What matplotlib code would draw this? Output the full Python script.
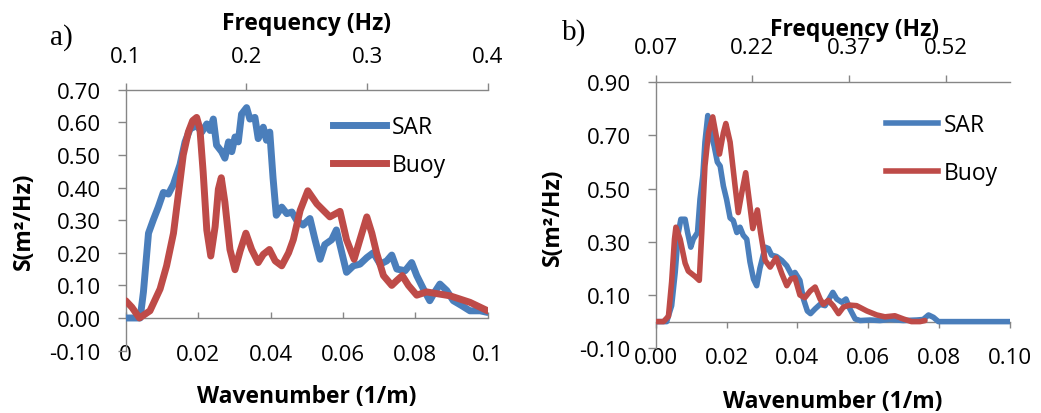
import matplotlib
matplotlib.use("Agg")
import matplotlib.pyplot as plt
from matplotlib.lines import Line2D

# ---------------- data ----------------
# Panel a
a_sar_k = [0.0, 0.0040, 0.0049, 0.0063, 0.0076, 0.0090, 0.0104, 0.0118, 0.0132, 0.0150,
           0.0164, 0.0178, 0.0196, 0.0210, 0.0224, 0.0233, 0.0242, 0.0251, 0.0265, 0.0274,
           0.0284, 0.0293, 0.0302, 0.0311, 0.0320, 0.0334, 0.0343, 0.0357, 0.0366, 0.0380,
           0.0389, 0.0398, 0.0407, 0.0416, 0.0431, 0.0445, 0.0459, 0.0472, 0.0490, 0.0509,
           0.0523, 0.0537, 0.0550, 0.0569, 0.0582, 0.0596, 0.0610, 0.0629, 0.0647, 0.0666,
           0.0684, 0.0703, 0.0721, 0.0735, 0.0749, 0.0772, 0.0790, 0.0804, 0.0822, 0.0840,
           0.0854, 0.0868, 0.0887, 0.0905, 0.0928, 0.0951, 0.0979, 0.1000]
a_sar_s = [0.000, 0.000, 0.080, 0.260, 0.300, 0.340, 0.385, 0.380, 0.410, 0.470,
           0.540, 0.580, 0.590, 0.570, 0.595, 0.575, 0.610, 0.530, 0.510, 0.490,
           0.540, 0.510, 0.555, 0.540, 0.625, 0.645, 0.610, 0.615, 0.550, 0.585,
           0.545, 0.570, 0.430, 0.315, 0.340, 0.320, 0.325, 0.300, 0.285, 0.305,
           0.240, 0.180, 0.225, 0.240, 0.270, 0.205, 0.140, 0.160, 0.165, 0.185,
           0.200, 0.165, 0.175, 0.193, 0.150, 0.145, 0.170, 0.130, 0.090, 0.053,
           0.080, 0.104, 0.084, 0.053, 0.038, 0.022, 0.022, 0.017]
a_buoy_k = [0.0, 0.0017, 0.0038, 0.0067, 0.0095, 0.0113, 0.0132, 0.0145, 0.0159, 0.0173,
            0.0185, 0.0196, 0.0205, 0.0214, 0.0224, 0.0235, 0.0247, 0.0256, 0.0264, 0.0274,
            0.0288, 0.0302, 0.0316, 0.0332, 0.0348, 0.0366, 0.0380, 0.0397, 0.0413, 0.0431,
            0.0450, 0.0463, 0.0482, 0.0503, 0.0528, 0.0564, 0.0592, 0.0610, 0.0631, 0.0647,
            0.0666, 0.0680, 0.0693, 0.0712, 0.0735, 0.0749, 0.0764, 0.0781, 0.0804, 0.0831,
            0.0896, 0.0951, 0.1000]
a_buoy_s = [0.053, 0.033, 0.000, 0.022, 0.089, 0.160, 0.260, 0.375, 0.500, 0.570,
            0.605, 0.615, 0.580, 0.447, 0.270, 0.190, 0.280, 0.395, 0.430, 0.355,
            0.210, 0.148, 0.205, 0.260, 0.210, 0.170, 0.195, 0.210, 0.175, 0.160,
            0.200, 0.240, 0.330, 0.390, 0.350, 0.310, 0.327, 0.240, 0.180, 0.240,
            0.310, 0.260, 0.200, 0.130, 0.100, 0.115, 0.130, 0.100, 0.070, 0.080,
            0.068, 0.048, 0.022]

# Panel b
b_sar_k = [0.0, 0.0031, 0.0045, 0.0055, 0.0064, 0.0071, 0.0083, 0.0090, 0.0099, 0.0106,
           0.0118, 0.0125, 0.0133, 0.0139, 0.0147, 0.0155, 0.0165, 0.0174, 0.0182, 0.0191,
           0.0200, 0.0210, 0.0219, 0.0229, 0.0238, 0.0247, 0.0257, 0.0266, 0.0276, 0.0285,
           0.0294, 0.0309, 0.0318, 0.0327, 0.0341, 0.0356, 0.0370, 0.0384, 0.0393, 0.0407,
           0.0417, 0.0428, 0.0437, 0.0450, 0.0464, 0.0478, 0.0487, 0.0500, 0.0511, 0.0525,
           0.0537, 0.0548, 0.0563, 0.0577, 0.0605, 0.0633, 0.0661, 0.0699, 0.0737, 0.0755,
           0.0770, 0.0784, 0.0798, 0.1000]
b_sar_s = [0.000, 0.000, 0.060, 0.185, 0.335, 0.385, 0.385, 0.335, 0.280, 0.310,
           0.335, 0.460, 0.550, 0.675, 0.775, 0.710, 0.660, 0.600, 0.585, 0.510,
           0.460, 0.390, 0.380, 0.335, 0.355, 0.325, 0.310, 0.225, 0.160, 0.135,
           0.200, 0.280, 0.275, 0.250, 0.245, 0.230, 0.210, 0.175, 0.185, 0.155,
           0.085, 0.040, 0.030, 0.048, 0.065, 0.060, 0.080, 0.110, 0.085, 0.073,
           0.085, 0.048, 0.010, 0.004, 0.006, 0.004, 0.008, 0.004, 0.006, 0.008,
           0.025, 0.016, 0.000, 0.000]
b_buoy_k = [0.0, 0.0022, 0.0036, 0.0045, 0.0053, 0.0057, 0.0069, 0.0083, 0.0092, 0.0111,
            0.0123, 0.0130, 0.0139, 0.0149, 0.0161, 0.0172, 0.0180, 0.0191, 0.0198, 0.0210,
            0.0224, 0.0233, 0.0243, 0.0254, 0.0266, 0.0274, 0.0287, 0.0296, 0.0309, 0.0323,
            0.0340, 0.0356, 0.0370, 0.0381, 0.0393, 0.0407, 0.0421, 0.0436, 0.0450, 0.0464,
            0.0473, 0.0487, 0.0501, 0.0516, 0.0530, 0.0548, 0.0567, 0.0596, 0.0624, 0.0647,
            0.0675, 0.0699, 0.0722, 0.0746, 0.0760]
b_buoy_s = [0.000, 0.000, 0.020, 0.150, 0.310, 0.355, 0.310, 0.220, 0.190, 0.170,
            0.155, 0.335, 0.585, 0.710, 0.770, 0.690, 0.630, 0.710, 0.745, 0.675,
            0.510, 0.410, 0.485, 0.560, 0.435, 0.350, 0.420, 0.335, 0.230, 0.205,
            0.240, 0.180, 0.135, 0.160, 0.165, 0.100, 0.090, 0.115, 0.130, 0.085,
            0.065, 0.080, 0.060, 0.030, 0.055, 0.062, 0.060, 0.040, 0.025, 0.018,
            0.022, 0.010, 0.000, 0.000, 0.004]

a_freq_ticks = [0.1, 0.2, 0.3, 0.4]
a_freq_labels = ["0.1", "0.2", "0.3", "0.4"]
a_k_ticks = [0.0, 0.02, 0.04, 0.06, 0.08, 0.1]
a_k_labels = ["0", "0.02", "0.04", "0.06", "0.08", "0.1"]
a_s_ticks = [-0.1, 0.0, 0.1, 0.2, 0.3, 0.4, 0.5, 0.6, 0.7]

b_freq_ticks = [0.07, 0.22, 0.37, 0.52]
b_freq_labels = ["0.07", "0.22", "0.37", "0.52"]
b_k_ticks = [0.0, 0.02, 0.04, 0.06, 0.08, 0.10]
b_k_labels = ["0.00", "0.02", "0.04", "0.06", "0.08", "0.10"]
b_s_ticks = [-0.1, 0.1, 0.3, 0.5, 0.7, 0.9]

series_names = ["SAR", "Buoy"]

# ---------------- style ----------------
W, H = 1041, 414
DPI = 100
PX = 72.0 / DPI          # points per pixel
GREY = "#868686"
BLUE = "#4A7EBB"
RED = "#BE4B48"
FONT = "Open Sans"
TICK_FS = 16
LABEL_FS = 16.5

plt.rcParams["font.family"] = [FONT, "DejaVu Sans"]

fig = plt.figure(figsize=(W / DPI, H / DPI), dpi=DPI)


def px_box(left, top, right, bottom):
    return [left / W, 1 - bottom / H, (right - left) / W, (bottom - top) / H]


def panel(box, k_lim, s_lim, freq_lim, sar, buoy, lw,
          k_ticks, k_labels, s_ticks, f_ticks, f_labels,
          zero_tick_dir, bottom_pad, top_pad, top_label_xy, bottom_label_xy,
          ylabel_xy, legend_anchor, legend_spacing):
    ax = fig.add_axes(box)
    ax.set_xlim(*k_lim)
    ax.set_ylim(*s_lim)

    ax.plot(sar[0], sar[1], color=BLUE, lw=lw, solid_joinstyle="round",
            solid_capstyle="round", zorder=3)
    ax.plot(buoy[0], buoy[1], color=RED, lw=lw, solid_joinstyle="round",
            solid_capstyle="round", zorder=4)

    for side in ("right", "top", "bottom"):
        ax.spines[side].set_visible(False)
    ax.spines["left"].set_color(GREY)
    ax.spines["left"].set_linewidth(1.0)

    ax.set_yticks(s_ticks)
    ax.set_yticklabels([f"{v:.2f}" for v in s_ticks])
    ax.tick_params(axis="y", direction="out", length=8 * PX, width=1.0,
                   color=GREY, pad=17 * PX, labelsize=TICK_FS)

    ax.set_xticks(k_ticks)
    ax.set_xticklabels(k_labels)
    ax.tick_params(axis="x", length=0, pad=bottom_pad, labelsize=TICK_FS)

    # horizontal axis line at S = 0
    zero_frac = (0 - s_lim[0]) / (s_lim[1] - s_lim[0])
    zax = ax.secondary_xaxis(zero_frac)
    zax.set_xticks(k_ticks)
    zax.tick_params(axis="x", direction=zero_tick_dir, length=6 * PX, width=1.0,
                    color=GREY, labelbottom=False, labeltop=False)
    for sp in zax.spines.values():
        sp.set_color(GREY)
        sp.set_linewidth(1.0)

    # frequency axis on top
    tax = ax.twiny()
    tax.set_xlim(*freq_lim)
    tax.set_xticks(f_ticks)
    tax.set_xticklabels(f_labels)
    for side in ("left", "right", "bottom"):
        tax.spines[side].set_visible(False)
    tax.spines["top"].set_color(GREY)
    tax.spines["top"].set_linewidth(1.0)
    tax.tick_params(axis="x", direction="out", length=7 * PX, width=1.0,
                    color=GREY, pad=top_pad, labelsize=TICK_FS)
    tax.set_xlabel("Frequency (Hz)", fontsize=LABEL_FS, fontweight="bold",
                   va="center", ha="center")
    tax.xaxis.set_label_coords(*top_label_xy)

    ax.set_xlabel("Wavenumber (1/m)", fontsize=LABEL_FS, fontweight="bold",
                  va="center", ha="center")
    ax.xaxis.set_label_coords(*bottom_label_xy)
    ax.set_ylabel("S(m²/Hz)", fontsize=LABEL_FS, fontweight="bold",
                  va="center", ha="center")
    ax.yaxis.set_label_coords(*ylabel_xy)

    handles = [Line2D([], [], color=BLUE, lw=lw), Line2D([], [], color=RED, lw=lw)]
    ax.legend(handles, series_names, loc="center left", frameon=False,
              bbox_to_anchor=(legend_anchor[0] / W, 1 - legend_anchor[1] / H),
              bbox_transform=fig.transFigure, borderaxespad=0, borderpad=0,
              fontsize=TICK_FS + 0.5, handlelength=2.3, handletextpad=0.25,
              labelspacing=legend_spacing)
    return ax


panel(px_box(125.7, 90.7, 487.7, 351.6), (0, 0.1), (-0.1, 0.7), (0.1, 0.4),
      (a_sar_k, a_sar_s), (a_buoy_k, a_buoy_s), 5.0,
      a_k_ticks, a_k_labels, a_s_ticks, a_freq_ticks, a_freq_labels,
      "in", -5, 16 * PX, (0.5, 1.255), (0.5, -0.174), (-0.281, 0.498),
      (333, 147), 0.62)

panel(px_box(655.7, 83.3, 1010.0, 349.2), (0, 0.1), (-0.1, 0.9), (0.07, 0.62),
      (b_sar_k, b_sar_s), (b_buoy_k, b_buoy_s), 4.0,
      b_k_ticks, b_k_labels, b_s_ticks, b_freq_ticks, b_freq_labels,
      "out", -1, 17 * PX, (0.5625, 1.2), (0.499, -0.2), (-0.291, 0.495),
      (885.7, 150), 1.05)

fig.text(50 / W, 1 - 38 / H, "a)", family="Liberation Serif", fontsize=21,
         va="center", ha="left")
fig.text(562 / W, 1 - 33 / H, "b)", family="Liberation Serif", fontsize=21,
         va="center", ha="left")

fig.savefig("out.png", dpi=DPI)
